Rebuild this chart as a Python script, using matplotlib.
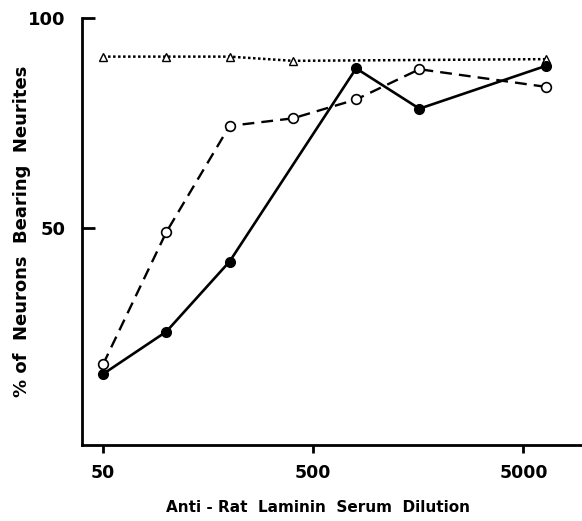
import matplotlib
matplotlib.use("Agg")
import matplotlib.pyplot as plt
from matplotlib.ticker import FixedLocator, NullLocator, FixedFormatter

# Data
x_filled = [50, 100, 200, 800, 1600, 6400]
y_filled = [15.2, 25.3, 42.0, 88.0, 78.4, 88.6]
x_open = [50, 100, 200, 400, 800, 1600, 6400]
y_open = [17.5, 49.0, 74.3, 76.1, 80.6, 87.8, 83.6]
x_tri = [50, 100, 200, 400, 6400]
y_tri = [90.8, 90.8, 90.8, 89.8, 90.2]
x_ticks = [50, 500, 5000]
x_ticklabels = ["50", "500", "5000"]
y_ticks = [50, 100]
y_ticklabels = ["50", "100"]

plt.rcParams['font.family'] = ['DejaVu Sans']
W, H = 582, 521
fig = plt.figure(figsize=(W/100, H/100), dpi=100)
ax = fig.add_axes([82/W, 76/H, 1 - 82/W, (445-18)/H])

ax.plot(x_tri, y_tri, linestyle=(0, (1, 1)), color='black', lw=1.8,
        marker='^', markersize=6, markerfacecolor='white', markeredgecolor='black', markeredgewidth=1)
ax.plot(x_open, y_open, linestyle=(0, (5, 3)), color='black', lw=1.7,
        marker='o', markersize=7, markerfacecolor='white', markeredgecolor='black', markeredgewidth=1.2)
ax.plot(x_filled, y_filled, linestyle='-', color='black', lw=1.9,
        marker='o', markersize=7, markerfacecolor='black', markeredgecolor='black')

ax.set_xscale('log')
ax.set_xlim(39.7, 9500)
ax.set_ylim(-1.7, 100)

ax.xaxis.set_major_locator(FixedLocator(x_ticks))
ax.xaxis.set_major_formatter(FixedFormatter(x_ticklabels))
ax.xaxis.set_minor_locator(NullLocator())
ax.yaxis.set_major_locator(FixedLocator(y_ticks))
ax.yaxis.set_major_formatter(FixedFormatter(y_ticklabels))
ax.yaxis.set_minor_locator(NullLocator())

for s in ['top', 'right']:
    ax.spines[s].set_visible(False)
for s in ['left', 'bottom']:
    ax.spines[s].set_linewidth(2)

ax.tick_params(axis='x', direction='out', length=6, width=2, labelsize=12.5, pad=8)
ax.tick_params(axis='y', direction='in', length=9, width=2, labelsize=13, pad=12)
for lab in ax.get_xticklabels() + ax.get_yticklabels():
    lab.set_fontweight('bold')

fig.text(318/W, 1 - 508/H, "Anti - Rat  Laminin  Serum  Dilution", fontsize=11,
         fontweight='bold', ha='center', va='center')
fig.text(22/W, 1 - 231/H, "% of  Neurons  Bearing  Neurites", fontsize=13,
         fontweight='bold', ha='center', va='center', rotation=90)

fig.savefig("out.png", dpi=100)
